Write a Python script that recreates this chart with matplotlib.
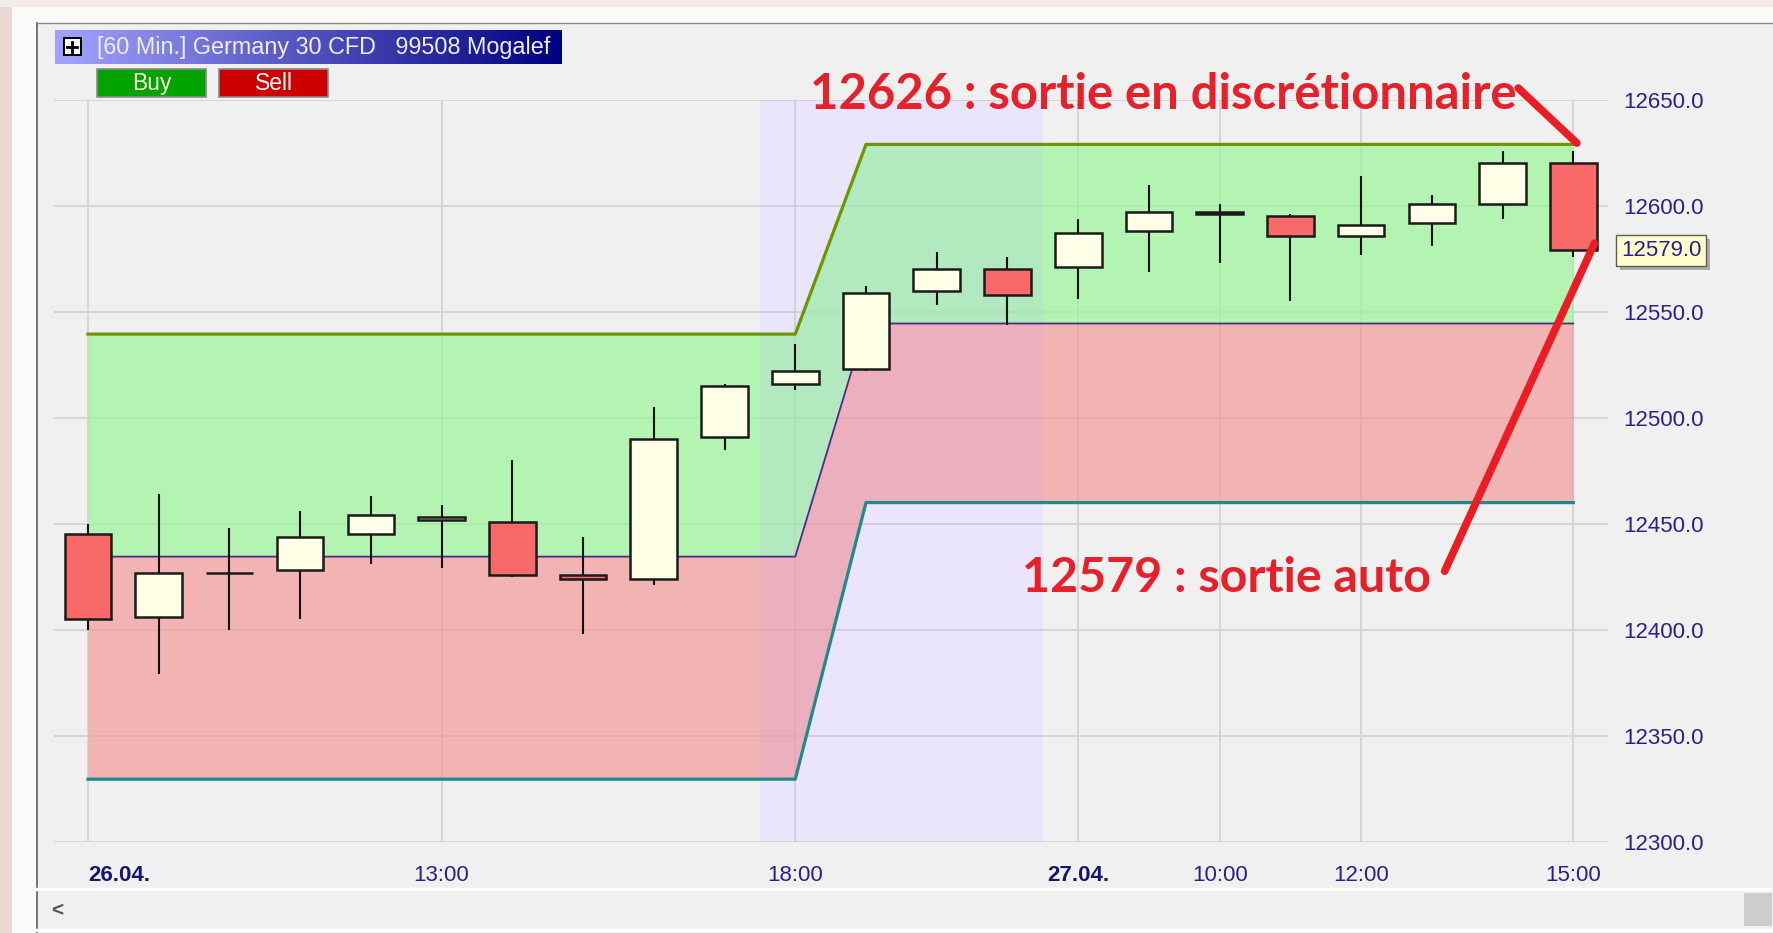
import matplotlib
matplotlib.use("Agg")
import matplotlib.pyplot as plt
from matplotlib.patches import Rectangle
import matplotlib.patheffects as pe
import numpy as np

# ---- hourly bars: 26.04 08:00 -> 21:00, 27.04 08:00 -> 15:00 ----
bar_hours = ["08:00", "09:00", "10:00", "11:00", "12:00", "13:00", "14:00",
             "15:00", "16:00", "17:00", "18:00", "19:00", "20:00", "21:00",
             "08:00", "09:00", "10:00", "11:00", "12:00", "13:00", "14:00",
             "15:00"]
opens = [12445, 12406, 12427, 12428, 12445, 12452, 12451, 12426, 12424, 12491,
         12516, 12523, 12560, 12570, 12571, 12588, 12596, 12595, 12586, 12592,
         12601, 12620]
highs = [12450, 12464, 12448, 12456, 12463, 12459, 12480, 12444, 12505, 12516,
         12535, 12562, 12578, 12576, 12594, 12610, 12601, 12596, 12614, 12605,
         12626, 12626]
lows = [12400, 12379, 12400, 12405, 12431, 12429, 12425, 12398, 12421, 12485,
        12513, 12522, 12553, 12544, 12556, 12569, 12573, 12555, 12577, 12581,
        12594, 12576]
closes = [12405, 12427, 12427, 12444, 12454, 12453, 12426, 12424, 12490, 12515,
          12522, 12559, 12570, 12558, 12587, 12597, 12597, 12586, 12591, 12601,
          12620, 12579]

# ---- range channel (upper / middle / lower) ----
band_high = [12539.5, 12539.5, 12539.5, 12539.5, 12539.5, 12539.5, 12539.5,
             12539.5, 12539.5, 12539.5, 12539.5, 12629, 12629, 12629, 12629,
             12629, 12629, 12629, 12629, 12629, 12629, 12629]
band_mid = [12434.5, 12434.5, 12434.5, 12434.5, 12434.5, 12434.5, 12434.5,
            12434.5, 12434.5, 12434.5, 12434.5, 12544.5, 12544.5, 12544.5,
            12544.5, 12544.5, 12544.5, 12544.5, 12544.5, 12544.5, 12544.5,
            12544.5]
band_low = [12329.5, 12329.5, 12329.5, 12329.5, 12329.5, 12329.5, 12329.5,
            12329.5, 12329.5, 12329.5, 12329.5, 12460, 12460, 12460, 12460,
            12460, 12460, 12460, 12460, 12460, 12460, 12460]

# ---- axis labels ----
xtick_index = [0, 5, 10, 14, 16, 18, 21]
xtick_labels = ["26.04.", "13:00", "18:00", "27.04.", "10:00", "12:00", "15:00"]
ytick_values = [12300, 12350, 12400, 12450, 12500, 12550, 12600, 12650]
evening_session = (10, 13)     # first and last bar of the evening session
last_price = 12579.0
exit_manual = 12626
exit_auto = 12579

W, H = 1774, 933
fig = plt.figure(figsize=(W / 100, H / 100), dpi=100)
fig.patch.set_facecolor("#F0F0F0")
renderer = fig.canvas.get_renderer()


def fit_width(txt, target_px):
    """Scale a text's font size so that it spans target_px pixels."""
    w = txt.get_window_extent(renderer).width
    txt.set_fontsize(txt.get_fontsize() * target_px / w)


# ---------- window chrome (pixel coordinates) ----------
bg = fig.add_axes([0, 0, 1, 1], zorder=0)
bg.set_xlim(0, W)
bg.set_ylim(H, 0)
bg.axis("off")
bg.add_patch(Rectangle((0, 0), W, 23, fc="#FBFAF9", ec="none"))
bg.add_patch(Rectangle((0, 0), 37, H, fc="#FBFAF9", ec="none"))
bg.add_patch(Rectangle((0, 0), 12, H, fc="#EAD8D2", ec="none"))
bg.add_patch(Rectangle((0, 0), W, 7, fc="#F3ECE8", ec="none"))
bg.plot([37, 37], [23, H], color="#6A6A6A", lw=1.3)
bg.plot([37, W], [23, 23], color="#8A8A8A", lw=1.0)
bg.plot([37, W], [889, 889], color="#FFFFFF", lw=2.5)
bg.plot([37, W], [930, 930], color="#FFFFFF", lw=2.5)
bg.add_patch(Rectangle((1744, 893), 28, 33, fc="#CDCDCD", ec="none"))
bg.text(57, 911, "<", fontsize=15, color="#555555", ha="center", va="center",
        family="Liberation Sans", fontweight="bold")

# title bar with gradient
grad = np.linspace(0, 1, 256)
c0 = np.array([0.64, 0.64, 1.0])
c1 = np.array([0.0, 0.0, 0.50])
img = (c0[None, :] * (1 - grad[:, None]) + c1[None, :] * grad[:, None])[None, :, :]
bg.imshow(img, extent=(55, 562, 64, 30), aspect="auto", zorder=1)
bg.add_patch(Rectangle((64, 38), 17, 17, fc="white", ec="black", lw=1.4, zorder=2))
bg.plot([67.5, 77.5], [46.5, 46.5], color="black", lw=2.0, zorder=3)
bg.plot([72.5, 72.5], [41.5, 51.5], color="black", lw=2.0, zorder=3)
title = bg.text(97, 47.5, "[60 Min.] Germany 30 CFD   99508 Mogalef",
                color="#EEEEFF", fontsize=16, va="center", ha="left",
                family="Liberation Sans", zorder=3)
fit_width(title, 454)

# Buy / Sell buttons
bg.add_patch(Rectangle((97, 69), 109, 28, fc="#00A300", ec="#8A8A8A", lw=1.2, zorder=2))
bg.add_patch(Rectangle((219, 69), 109, 28, fc="#CC0000", ec="#8A8A8A", lw=1.2, zorder=2))
bg.text(151.5, 83.5, "Buy", color="#FFFFDD", fontsize=16.5, ha="center",
        va="center", family="Liberation Sans", zorder=3)
bg.text(273.5, 83.5, "Sell", color="#FFFFFF", fontsize=16.5, ha="center",
        va="center", family="Liberation Sans", zorder=3)

# ---------- price chart ----------
left, right, top, bottom = 54, 1608, 99.9, 841.7
ax = fig.add_axes([left / W, (H - bottom) / H, (right - left) / W,
                   (bottom - top) / H], zorder=1)
ax.set_facecolor("#F0F0F0")
for s in ax.spines.values():
    s.set_visible(False)

x = np.arange(len(opens))
ax.set_xlim(-0.48, 21.49)
ax.set_ylim(ytick_values[0], ytick_values[-1])

ax.set_axisbelow(True)
ax.grid(True, color="#D3D3D3", lw=1.3)

# evening session shading (background plus a faint tint over the channel)
sess = (evening_session[0] - 0.5, evening_session[1] + 0.5)
ax.axvspan(*sess, color="#F3EFFC", lw=0, zorder=0.2)

# channel fills and borders
ax.fill_between(x, band_mid, band_high, color="#99F799", alpha=0.7, lw=0, zorder=1)
ax.fill_between(x, band_low, band_mid, color="#F49999", alpha=0.7, lw=0, zorder=1)
ax.axvspan(*sess, color="#B9A0FF", alpha=0.12, lw=0, zorder=1.5)
ax.plot(x, band_high, color="#6E9600", lw=2.3, zorder=2)
ax.plot(x, band_mid, color="#4B2C86", lw=1.3, zorder=2)
ax.plot(x, band_low, color="#1F8A8A", lw=2.3, zorder=2)

# candles
body_w = 0.66
for i in range(len(opens)):
    o, h, l, c = opens[i], highs[i], lows[i], closes[i]
    ax.plot([i, i], [l, h], color="#111111", lw=1.5, zorder=3,
            solid_capstyle="butt")
    fc = "#FFFFE8" if c >= o else "#F86A6A"
    ax.add_patch(Rectangle((i - body_w / 2, min(o, c)), body_w, abs(c - o),
                           fc=fc, ec="#1A1A1A", lw=1.8, zorder=4))

# axis ticks
ax.yaxis.tick_right()
ax.set_yticks(ytick_values)
ax.set_yticklabels([f"{v:.1f}" for v in ytick_values])
ax.tick_params(axis="y", length=0, pad=11, labelsize=16, labelcolor="#2E1E8C")
ax.set_xticks(x[xtick_index])
ax.set_xticklabels(xtick_labels)
ax.tick_params(axis="x", length=0, pad=17, labelsize=16, labelcolor="#2E1E8C")
for lbl in ax.get_yticklabels() + ax.get_xticklabels():
    lbl.set_family("Liberation Sans")
for lbl in ax.get_xticklabels():
    if lbl.get_text().endswith("."):
        lbl.set_fontweight("bold")
        lbl.set_color("#16166E")
ax.get_xticklabels()[0].set_ha("left")

# last price tag with drop shadow
tag = ax.annotate(f"{last_price:.1f}", xy=(1, last_price),
                  xycoords=("axes fraction", "data"), xytext=(13, 0),
                  textcoords="offset pixels", ha="left", va="center",
                  fontsize=16, family="Liberation Sans", color="#2E1E8C",
                  bbox=dict(boxstyle="square,pad=0.22", fc="#FFFFCC",
                            ec="#5A5A5A", lw=1),
                  annotation_clip=False, zorder=6)
tag.get_bbox_patch().set_path_effects(
    [pe.SimplePatchShadow(offset=(3, -3), shadow_rgbFace="#9A9A9A", alpha=0.8),
     pe.Normal()])

# exit annotations
red = "#E8202A"
t1 = ax.text(20.2, 12652.5, f"{exit_manual} : sortie en discrétionnaire",
             ha="right", va="center", color=red, fontweight="bold",
             family="Lato", fontsize=30, zorder=7)
fit_width(t1, 706)
t2 = ax.text(18.99, 12424.5, f"{exit_auto} : sortie auto", ha="right",
             va="center", color=red, fontweight="bold", family="Lato",
             fontsize=30, zorder=7)
fit_width(t2, 408)
ax.plot([20.22, 21.05], [12655.6, 12629.6], color="#EC1C24", lw=5.5,
        solid_capstyle="round", clip_on=False, zorder=7)
ax.plot([19.18, 21.3], [12427.6, 12582.4], color="#EC1C24", lw=5.5,
        solid_capstyle="round", clip_on=False, zorder=7)

fig.savefig("out.png", dpi=100, facecolor=fig.get_facecolor())
